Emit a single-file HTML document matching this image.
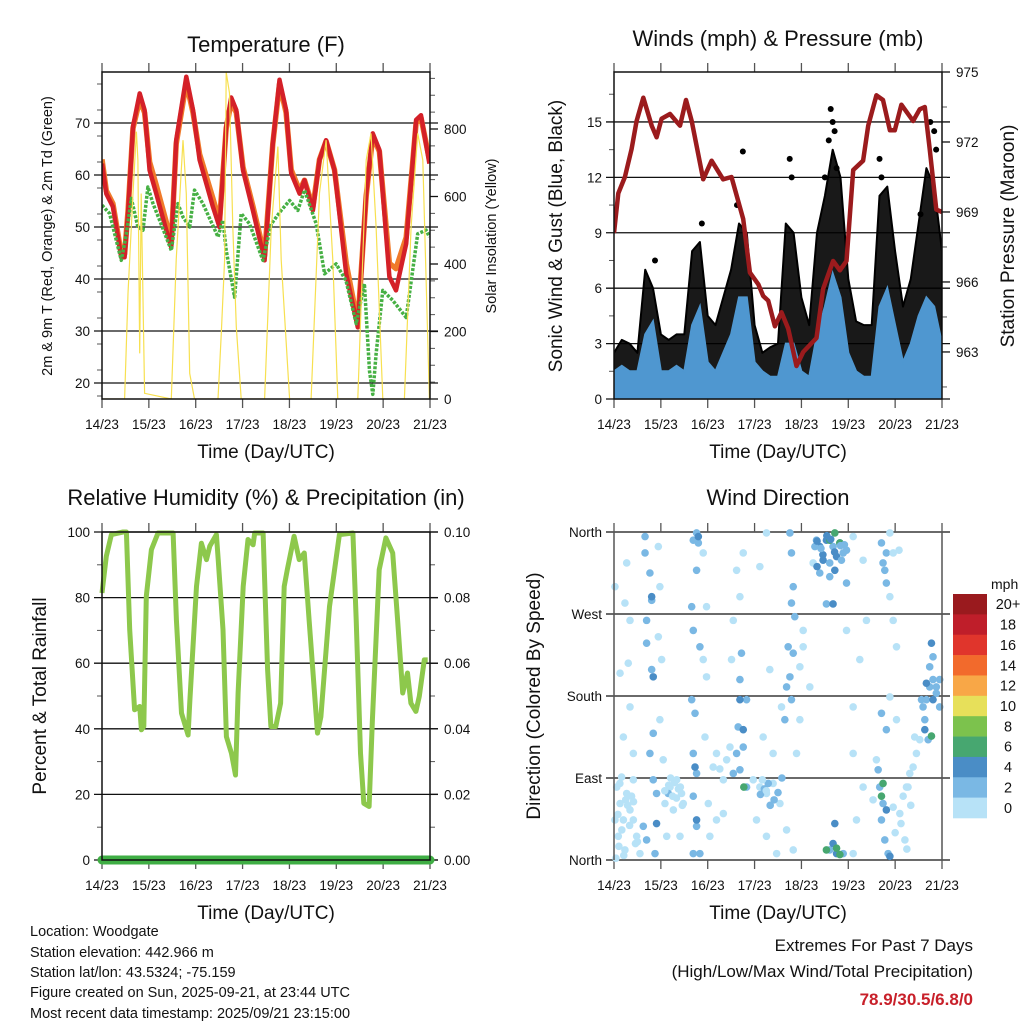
<!DOCTYPE html>
<html><head><meta charset="utf-8"><style>
html,body{margin:0;padding:0;background:#fff;}
svg{display:block;font-family:"Liberation Sans",Arial,sans-serif;}
</style></head><body>
<svg id="fig" width="1024" height="1024" viewBox="0 0 1024 1024" xmlns="http://www.w3.org/2000/svg">
<rect width="1024" height="1024" fill="#fff"/>
<g id="temp"></g>
<g id="wind"></g>
<g id="rh"></g>
<g id="dir"></g>
<g id="legend"></g>
<g font-size="14.5" fill="#111">
<text x="30" y="936">Location: Woodgate</text>
<text x="30" y="957">Station elevation: 442.966 m</text>
<text x="30" y="977">Station lat/lon: 43.5324; -75.159</text>
<text x="30" y="997">Figure created on Sun, 2025-09-21, at 23:44 UTC</text>
<text x="30" y="1018">Most recent data timestamp: 2025/09/21 23:15:00</text>
</g>
<g text-anchor="end" font-size="17">
<text x="973" y="951" fill="#111">Extremes For Past 7 Days</text>
<text x="973" y="977" fill="#111">(High/Low/Max Wind/Total Precipitation)</text>
<text x="973" y="1005" fill="#c8202a" font-weight="bold">78.9/30.5/6.8/0</text>
</g>
</svg>
<script>
// ---------- DATA ----------
const dayLabels = ["14/23","15/23","16/23","17/23","18/23","19/23","20/23","21/23"];
// Temperature (F)
const tRedHours = [0,2.2,5.6,9.9,11.6,13.3,15.9,19.3,21.8,24.4,27.8,32.9,35.5,38,43.2,46.6,50,56.8,60.2,63.6,66.2,68.8,72.2,77.3,83.3,87.5,90.9,94.3,96.9,101.2,103.7,108,111.4,114.8,119.1,125.1,131,135.3,138.7,142.1,147.2,150.6,155.8,160.9,163.4,167.7];
const tRed = [62.2,56.4,53.9,44.2,44.2,52.6,69.3,75.7,72.5,60.9,56.4,49.4,46.1,66.7,78.9,72.5,62.9,53.9,50,69.3,74.9,72.5,60.9,53.2,43.6,66.1,78.3,72.5,60.3,56.4,59,53.2,62.9,66.7,60.9,41,30.7,56.4,68,64.8,40.4,37.8,46.8,70.6,71.5,62.2];
const tOrange = [63,57,54.5,44.8,44.8,53,69,74.5,72,62.5,58,51,47,66,77.8,72,64,55.5,51,69,74,72,61.5,54,44.5,66,77.5,72,61,57,59,53.8,63,66.5,61,43,31.5,56,67.5,64.5,43,42,48,70,71,63];
const tdHours = [0,3.9,9.9,12.5,15,18.4,21,23.5,26.1,29.5,35.5,38.9,41.5,44.9,47.4,51.7,59.4,61.9,63.6,67.9,71.3,75.6,82.4,86.7,91.8,96.1,100.3,103.7,109.7,114,119.9,125,130.2,134.4,137,138.7,140.4,143.8,148.9,155.8,161.7,166,167.7];
const tDew = [54.2,52.6,43.6,48.7,55.5,50,49.4,57.7,54.5,51.3,45.5,54.5,51.9,50,57.1,54.5,48.1,51.3,45.5,36.5,52.6,50.6,43.6,50.6,53.2,55.1,53.2,57.1,50.6,41,42.9,39.7,31.4,39.1,22.3,17.8,25.6,37.8,35.9,32.6,48.7,49.4,48.1];
const solarHours = [0,11.6,13.3,15.9,17.6,18.4,19.3,20.1,21.8,35.5,38,41.5,43.2,44.9,47.4,59.4,61.1,62.8,63.6,65.3,67,68.8,71.3,83.3,86.7,90.1,91.8,96.1,107.1,111.4,114.8,118.2,120.8,131,135.3,137.8,140.4,143.8,154.9,158.3,161.7,164.3,167.7];
const solar = [0,0,313,609,792,708,135,609,17,0,412,767,608,76,0,0,195,412,969,906,510,214,0,0,510,748,412,0,0,610,767,412,0,0,708,787,510,0,0,510,787,708,0];
// Winds (mph), 4-hourly
const windHours = [0,4,8,12,16,20,24,28,32,36,40,44,48,52,56,60,64,68,72,76,80,84,88,92,96,100,104,108,112,116,120,124,128,132,136,140,144,148,152,156,160,164,168];
const gustHi = [2.5,3.2,3.0,2.5,7.0,6.0,3.5,3.2,3.5,3.5,8.0,8.5,4.5,4.0,5.5,7.0,9.5,9.0,4.0,2.5,2.8,3.0,9.5,9.0,5.5,4.0,9.0,11.0,13.5,12.0,6.5,4.2,4.0,4.0,11.0,11.5,8.0,5.0,6.5,9.5,12.5,11.5,8.0];
const gustLo = [1.0,1.2,1.0,1.0,2.5,2.5,1.5,1.2,1.2,1.5,2.5,3.0,1.5,1.2,1.8,2.5,3.5,3.0,1.5,1.0,0.8,1.0,2.5,3.0,1.5,1.0,2.5,3.5,4.0,3.5,2.0,1.0,1.0,1.0,3.0,3.5,2.5,1.2,2.0,3.0,4.0,3.5,2.0];
const windHi = [1.5,1.8,1.5,1.5,3.5,4.2,1.5,1.5,1.8,1.5,4.0,5.0,2.0,1.5,2.5,3.5,5.5,5.5,2.0,1.5,1.2,1.2,3.0,3.0,1.5,1.2,3.5,5.0,6.8,5.5,2.5,1.5,1.2,1.2,5.0,6.0,4.0,2.0,3.0,4.5,5.5,5.0,3.0];
const gustOutHours = [21,45,63,66,90,91,108,110,111,112,113,114,136,137,157,162,164,165];
const gustOut = [7.5,9.5,10.5,13.4,13,12,12,14,15.7,15,14.5,12.5,13,12,10,15,14.5,13.5];
const presHours = [0,2.2,5.6,9,11.6,15,19.3,21.8,24.4,28.7,33.8,36.9,39.8,45.7,50,55.9,60.2,66.2,69.6,73.9,76.4,79,82.4,85.8,89.2,93.5,96.9,103.7,107.1,112.2,115.7,119.1,122.5,125.1,127.6,130.2,134.4,137.8,141.3,143.8,147.2,153.2,156.6,159.2,161.7,165.1,168];
const pressure = [968.1,969.8,970.5,971.7,972.9,973.9,972.7,972.2,973,973.2,972.7,973.8,972.9,970.4,971.2,970.4,970.5,968.7,966.4,965.9,965.4,965.2,964.1,964.7,964,962.4,963,963.6,965.7,966.9,966.5,966.9,970.8,971,971.2,972.7,974,973.8,972.5,972.5,973.6,972.9,973.4,973.5,971.7,969.1,969];
// RH (%)
const rhHours = [0,2.2,4.8,10.8,12.5,14.2,16.7,19.3,20.2,21.4,22.7,25.3,28.7,36.4,38.1,40.7,44.1,45,48.4,50.9,53.5,55.2,58.6,59.5,62.0,63.7,66.3,68.4,69.7,72.3,74.8,77.4,78.2,82.5,84.8,86.5,89,91.5,93.3,94.9,98.4,101,103.6,106.1,109.6,110.4,112.1,116.5,121.6,128.5,130.2,132.4,134.1,136.8,138.5,142,145.4,148.9,151.4,154,156.5,158.2,160.8,162.5,165.1,166.8];
const rh = [81.4,92.6,99.2,100,100,70.2,45.8,46.8,39.7,40.7,80.4,94.6,99.7,99.7,73.2,44.8,38.1,48.8,83.4,96.6,91.6,95.7,99.2,91.6,70.2,37.6,32.6,25.9,50.9,83.4,97.7,96.1,99.7,99.7,58,40.7,40.7,47.8,83.4,88.5,98.7,91.6,93.6,73.2,44.8,38.7,43.7,77.3,99.2,99.7,73.2,32.6,17.3,16.3,42.7,88.5,98.2,93.6,73.2,50.9,57,47.8,45.3,49.9,61,61];
const precip = [0,0];
const precipHours = [0,168];
// Wind direction scatter
const dirHours = [1.4,3.1,2.2,4.8,6.5,8.2,9.9,11.6,13.3,5.6,0.5,3.9,9.9,0.5,6.5,5.6,8.2,3.1,8.2,4.8,9.9,7.3,
15.9,18.4,19.3,16.7,16.7,19.3,20.1,18.4,20.1,21.8,15,16.7,21,15.9,19.3,20.1,21.8,22.7,23.5,22.7,24.4,23.5,25.2,26.1,27,
28.7,32.1,34.6,30.4,35.5,33.8,27.8,
42.3,40.6,43.2,42.3,39.8,40.6,44,39.8,41.5,40.6,42.3,40.6,42.3,40.6,44,43.2,41.5,42.3,45.7,47.4,45.7,47.4,46.6,48.3,49.1,
50.8,54.2,56,52.5,57.7,59.4,60.2,61.1,62.8,66.2,64.5,56,52.5,62.8,64.5,63.6,64.5,65.3,67.9,66.2,61.1,67.9,66.2,64.5,66.5,
71.3,74.7,78.1,81.5,85,73,78.1,83.3,76.4,79.8,74.7,78.1,81.5,85.8,
90.1,90.9,91.8,90.9,92.6,89.2,91.8,90.1,88.4,90.9,87.5,95.2,96.9,95.2,93.5,88.4,91.8,100.3,96.9,
103.7,105.4,108.8,112.2,115.7,119.1,107.1,110.5,114,117.4,105.4,110.5,108.8,112.2,119.1,102.9,116.5,113.1,110.5,115.7,113.1,122.5,127.6,129.3,125.9,122.5,122.5,127.6,124.2,122.5,102,119.1,
110.5,114,117.4,112.2,113.1,114,108.8,115.7,
137,139.5,138.7,139.5,137.8,137,139.5,136.1,137.8,137,138.7,140.4,135.3,139.5,141.3,137.8,137,141.3,143,141.3,143,144.7,141.3,144.7,134.4,143,146.4,132.7,
148.1,149.8,151.5,153.2,154.9,154,156.6,158.3,160,161.7,163.4,165.1,166.8,159.2,161.7,163.4,165.1,157.5,166.8,160.9,162.6,160,163.4,159.2,162.6,150.6,
1,2.5,4,7,9,11,2,5,8,10,12,3,6,26,28,30,31,33,35,29,32,34,75,77,79,80,82,84,86,76,78,147,149,150,152,144,146,104,107,109,106,111,113,116,104,118];
const dirDeg = [80,62,26,44,73,55,44,26,7,11,44,91,88,300,326,282,263,205,168,135,117,216,
337,315,285,263,238,209,139,117,88,73,37,22,7,355,289,201,40,344,300,245,220,154,110,62,26,
80,88,73,55,62,26,73,
359,351,348,318,278,252,234,176,161,117,95,70,37,7,7,355,102,44,337,278,220,201,135,62,26,
102,100,88,117,110,124,220,263,318,337,289,51,44,117,99,146,198,227,176,124,95,80,143,176,80,
88,80,73,84,62,44,26,7,135,209,322,359,117,168,
359,337,300,282,267,234,227,201,190,176,154,212,252,154,117,33,11,190,234,
351,344,351,344,348,340,329,326,333,337,315,311,281,281,304,344,329,318,351,348,359,355,329,263,220,168,117,80,44,7,326,252,
11,7,7,18,40,13,11,6,
348,337,318,304,326,161,143,80,62,44,22,7,99,55,4,84,70,359,337,289,263,234,179,154,110,58,51,66,
70,80,95,102,117,135,132,168,176,190,198,183,168,154,212,223,190,176,198,132,238,194,176,143,136,80,
2,15,33,60,70,18,50,5,38,64,20,84,66,76,82,70,85,78,60,90,68,80,72,78,84,60,66,74,90,88,76,40,22,12,60,30,340,350,335,356,342,352,338,345,322,346];
const dirSpeed = [1,1,1,1,1,1,1,1,1,1,1,1,1,1,1,1,1,1,1,1,1,1,
3,3,3,3,3,3,3,3,3,3,3,3,3,3,5,5,5,1,1,1,1,1,1,1,1,
1,1,1,1,1,1,3,
3,3,3,3,3,3,3,3,3,3,3,3,3,3,3,5,5,5,1,1,1,1,1,1,1,
1,1,1,1,1,1,1,1,1,1,1,1,1,3,3,3,3,3,3,3,3,3,5,5,6.5,
1,1,1,1,1,1,1,1,1,1,1,1,1,1,
3,3,3,3,3,3,3,3,3,3,3,1,1,1,1,1,1,1,1,
3,4,4,3,4,3,4,3,4,3,3,3,3,4,3,3,3,4,6.5,6.5,6.5,1,1,1,1,1,1,1,1,1,1,1,
3,4,3,4,5,6.5,6.5,6.5,
3,3,3,3,3,3,3,3,3,3,3,3,3,5,5,6.5,6.5,1,1,1,1,1,1,1,1,1,1,1,
1,1,1,1,1,1,1,3,3,3,3,3,3,3,3,3,3,3,3,3,5,5,5,5,6.5,1,
1,1,1,1,1,1,1,1,1,1,1,1,1,1,1,1,1,1,1,1,1,1,3,3,3,3,3,3,3,1,1,1,1,1,1,1,1,4,4,5,3,4,5,3,4,3];
const legendLabels = ["20+","18","16","14","12","10","8","6","4","2","0"];
const legendColors = ["#9a1a1e","#bf1e2a","#e0352c","#f26a2c","#f8a747","#e7e05a","#7cc24d","#47a770","#4a8dc6","#7ab8e4","#b7e2f7"];

// ---------- HELPERS ----------
const NS = "http://www.w3.org/2000/svg";
function mk(parent, tag, attrs, text){
  const e = document.createElementNS(NS, tag);
  for (const k in attrs) e.setAttribute(k, attrs[k]);
  if (text !== undefined) e.textContent = text;
  parent.appendChild(e);
  return e;
}
function makeAxes(g, L, R, T, B){
  return { x: h => L + h / 168 * (R - L), L, R, T, B };
}
function drawFrame(g, P, leftTicks, leftMinor, yl, leftFmt, rightTicks, rightMinor, yr, rightFmt, grid){
  leftTicks.forEach(v => {
    const y = yl(v);
    const ln = mk(g, "line", {x1: P.L - 8, x2: grid ? P.R + 8 : P.L, y1: y, y2: y, stroke: "#111", "stroke-width": 1.3});
    
    
    const t = mk(g, "text", {x: P.L - 12, y: y + 5, "text-anchor": "end", "font-size": 13.5, fill: "#111"}, leftFmt(v));
    
    
  });
  leftMinor.forEach(v => { mk(g, "line", {x1: P.L - 5, x2: P.L, y1: yl(v), y2: yl(v), stroke: "#555", "stroke-width": 1}); });
  if (rightTicks) {
    rightTicks.forEach(v => {
      const y = yr(v);
      mk(g, "line", {x1: P.R, x2: P.R + 8, y1: y, y2: y, stroke: "#111", "stroke-width": 1.3});
      const t = mk(g, "text", {x: P.R + 14, y: y + 5, "font-size": 13.5, fill: "#111"}, rightFmt(v));
      
      
    });
    rightMinor.forEach(v => { mk(g, "line", {x1: P.R, x2: P.R + 5, y1: yr(v), y2: yr(v), stroke: "#555", "stroke-width": 1}); });
  }
  dayLabels.forEach((lab, i) => {
    const x = P.x(i * 24);
    mk(g, "line", {x1: x, x2: x, y1: P.T - 9, y2: P.T, stroke: "#555", "stroke-width": 1.3});
    mk(g, "line", {x1: x, x2: x, y1: P.B, y2: P.B + 9, stroke: "#555", "stroke-width": 1.3});
    const t = mk(g, "text", {x: x, y: P.B + 30, "text-anchor": "middle", "font-size": 13.5, fill: "#111"}, lab);
    
    
  });
  const xt = mk(g, "text", {x: (P.L + P.R) / 2, y: P.B + 59, "text-anchor": "middle", "font-size": 19, fill: "#111"}, "Time (Day/UTC)");
  
  
}
function box(g, P){
  const r = mk(g, "rect", {x: P.L, y: P.T, width: P.R - P.L, height: P.B - P.T, fill: "none", stroke: "#111", "stroke-width": 1.5});
  
  
}
function pathFrom(hours, vals, xf, yf){
  return hours.map((h, i) => (i ? "L" : "M") + xf(h).toFixed(1) + "," + yf(vals[i]).toFixed(1)).join("");
}
function title(g, x, y, txt, name){
  const t = mk(g, "text", {x, y, "text-anchor": "middle", "font-size": 22, fill: "#111"}, txt);
  
  
}
function vtitle(g, x, y, txt, size, name){
  const t = mk(g, "text", {x, y, "text-anchor": "middle", "font-size": size, fill: "#111", transform: `rotate(-90 ${x} ${y})`}, txt);
  
  
}
function range(a, b, s){ const r = []; for (let v = a; v <= b + 1e-9; v += s) r.push(+v.toFixed(4)); return r; }

// ---------- TEMPERATURE ----------
(function(){
  const g = document.getElementById("temp");
  const P = makeAxes(g, 102, 430, 72, 399);
  const yl = v => 123 + (70 - v) * 5.2;
  const yr = v => 399 - v * 270 / 800;
  drawFrame(g, P, [20,30,40,50,60,70], range(17.5,77.5,5), yl, v => String(v), [0,200,400,600,800], range(50,950,50).filter(v => v % 200), yr, v => String(v), true);
  const clip = mk(g, "clipPath", {id: "ctemp"}); mk(clip, "rect", {x: P.L, y: P.T, width: P.R - P.L, height: P.B - P.T});
  const cg = mk(g, "g", {"clip-path": "url(#ctemp)"});
  const o = mk(cg, "path", {d: pathFrom(tRedHours, tOrange, P.x, yl), fill: "none", stroke: "#f07a2a", "stroke-width": 5.5, "stroke-linejoin": "round"});
   
  const r = mk(cg, "path", {d: pathFrom(tRedHours, tRed, P.x, yl), fill: "none", stroke: "#d42028", "stroke-width": 4.5, "stroke-linejoin": "round"});
   
  const d = mk(cg, "path", {d: pathFrom(tdHours, tDew, P.x, yl), fill: "none", stroke: "#46b044", "stroke-width": 3.5, "stroke-dasharray": "3 1.5", "stroke-linejoin": "round"});
   
  const s = mk(cg, "path", {d: pathFrom(solarHours, solar, P.x, yr), fill: "none", stroke: "#f7e050", "stroke-width": 1.2});
   
  box(g, P);
  title(g, 266, 52, "Temperature (F)", "temp-title");
  vtitle(g, 52, 236, "2m & 9m T (Red, Orange) & 2m Td (Green)", 14.5, "temp-y-title");
  vtitle(g, 496, 236, "Solar Insolation (Yellow)", 14.5, "solar-y-title");
})();

// ---------- WINDS ----------
(function(){
  const g = document.getElementById("wind");
  const P = makeAxes(g, 614, 942, 72, 399);
  const yl = v => 399 - v * 18.47;
  const yr = v => 72 + (975 - v) * 23.33;
  drawFrame(g, P, [0,3,6,9,12,15], range(1.5,16.5,3), yl, v => String(v), [963,966,969,972,975], range(961.5,973.5,3), yr, v => String(v), true);
  const clip = mk(g, "clipPath", {id: "cwind"}); mk(clip, "rect", {x: P.L, y: P.T, width: P.R - P.L, height: P.B - P.T});
  const cg = mk(g, "g", {"clip-path": "url(#cwind)"});
  let d = pathFrom(windHours, gustHi, P.x, yl);
  for (let i = windHours.length - 1; i >= 0; i--) d += "L" + P.x(windHours[i]).toFixed(1) + "," + yl(gustLo[i]).toFixed(1);
  const gb = mk(cg, "path", {d: d + "Z", fill: "#000", "fill-opacity": 0.9, stroke: "#000", "stroke-width": 2, "stroke-linejoin": "round"});
   
  gustOutHours.forEach((h, i) => {
    const c = mk(cg, "circle", {cx: P.x(h), cy: yl(gustOut[i]), r: 3, fill: "#000"});
     
  });
  let dw = "M" + P.x(0) + "," + yl(0) + pathFrom(windHours, windHi, P.x, yl).replace(/^M/, "L") + "L" + P.x(168) + "," + yl(0) + "Z";
  const wb = mk(cg, "path", {d: dw, fill: "#4f97d0", stroke: "#4f97d0", "stroke-width": 2});
   
  const p = mk(cg, "path", {d: pathFrom(presHours, pressure, P.x, yr), fill: "none", stroke: "#9b1b1d", "stroke-width": 4.5, "stroke-linejoin": "round"});
   
  box(g, P);
  title(g, 778, 46, "Winds (mph) & Pressure (mb)", "winds-title");
  vtitle(g, 562, 236, "Sonic Wind & Gust (Blue, Black)", 19, "wind-y-title");
  vtitle(g, 1014, 236, "Station Pressure (Maroon)", 19, "pressure-y-title");
})();

// ---------- RH ----------
(function(){
  const g = document.getElementById("rh");
  const P = makeAxes(g, 102, 430, 532, 860);
  const yl = v => 860 - v * 3.28;
  const yr = v => 860 - v * 3280;
  drawFrame(g, P, [0,20,40,60,80,100], range(10,90,20), yl, v => String(v), [0,0.02,0.04,0.06,0.08,0.1], range(0.01,0.09,0.02), yr, v => v.toFixed(2), true);
  const r = mk(g, "path", {d: pathFrom(rhHours, rh, P.x, yl), fill: "none", stroke: "#8dc84c", "stroke-width": 5, "stroke-linejoin": "round"});
   
  const pr = mk(g, "path", {d: pathFrom(precipHours, precip, P.x, yr), fill: "none", stroke: "#3fae44", "stroke-width": 9, "stroke-linecap": "round"});
   
  box(g, P);
  title(g, 266, 505, "Relative Humidity (%) & Precipitation (in)", "rh-title");
  vtitle(g, 46, 696, "Percent & Total Rainfall", 19, "rh-y-title");
})();

// ---------- WIND DIRECTION ----------
(function(){
  const g = document.getElementById("dir");
  const P = makeAxes(g, 614, 942, 532, 860);
  const yl = v => 860 - v / 360 * 328;
  const names = ["North","East","South","West","North"];
  [0,90,180,270,360].forEach((v, i) => {
    const y = yl(v);
    mk(g, "line", {x1: P.L - 8, x2: P.R + 8, y1: y, y2: y, stroke: "#111", "stroke-width": 1.3});
    const t = mk(g, "text", {x: P.L - 12, y: y + 5, "text-anchor": "end", "font-size": 13.5, fill: "#111"}, names[i]);
     
  });
  dayLabels.forEach((lab, i) => {
    const x = P.x(i * 24);
    mk(g, "line", {x1: x, x2: x, y1: P.T - 9, y2: P.T, stroke: "#555", "stroke-width": 1.3});
    mk(g, "line", {x1: x, x2: x, y1: P.B, y2: P.B + 9, stroke: "#555", "stroke-width": 1.3});
    const t = mk(g, "text", {x, y: P.B + 30, "text-anchor": "middle", "font-size": 13.5, fill: "#111"}, lab);
     
  });
  const xt = mk(g, "text", {x: 778, y: 919, "text-anchor": "middle", "font-size": 19, fill: "#111"}, "Time (Day/UTC)");
   
  const colorFor = s => legendColors[10 - Math.min(10, Math.floor(s / 2))];
  dirHours.forEach((h, i) => {
    const c = mk(g, "circle", {cx: P.x(h), cy: yl(dirDeg[i]), r: 3.8, fill: colorFor(dirSpeed[i])});
     
  });
  mk(g, "line", {x1: P.L, x2: P.L, y1: P.T, y2: P.B, stroke: "#555", "stroke-width": 1.5});
  mk(g, "line", {x1: P.R, x2: P.R, y1: P.T, y2: P.B, stroke: "#555", "stroke-width": 1.5});
  title(g, 778, 505, "Wind Direction", "direction-title");
  vtitle(g, 540, 696, "Direction (Colored By Speed)", 19, "direction-y-title");
})();

// ---------- LEGEND ----------
(function(){
  const g = document.getElementById("legend");
  const t0 = mk(g, "text", {x: 991, y: 589, "font-size": 14, fill: "#111"}, "mph");
   
  const h = 224 / 11;
  legendLabels.forEach((lab, i) => {
    const y = 594 + i * h;
    const r = mk(g, "rect", {x: 953, y, width: 34, height: h + 0.3, fill: legendColors[i]});
     
    const t = mk(g, "text", {x: 1008, y: y + h / 2 + 5, "text-anchor": "middle", "font-size": 14.5, fill: "#111"}, lab);
     
  });
})();
</script>
</body></html>
